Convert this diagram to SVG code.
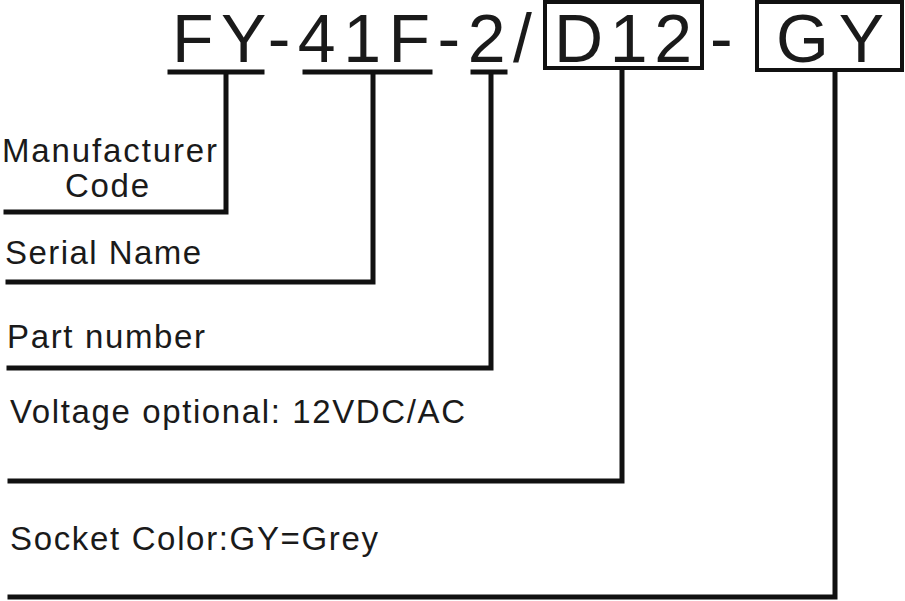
<svg xmlns="http://www.w3.org/2000/svg" width="905" height="601" viewBox="0 0 905 601">
<style>
.t{font-family:"Liberation Sans",Arial,sans-serif;fill:#1a1a1a}
.big{font-size:68px}
.lbl{font-size:33px}
.ln{stroke:#111;stroke-width:5;fill:none;stroke-linecap:square}
.box{stroke:#111;stroke-width:4;fill:none}
</style>
<rect width="905" height="601" fill="#fff"/>
<g id="code">
<text class="t big" x="172" y="62" textLength="360" lengthAdjust="spacing">FY-41F-2/</text>
<text class="t big" x="710" y="62">-</text>
</g>
<g id="box-d12">
<rect class="box" x="545" y="2" width="157" height="66"/>
<text class="t big" x="554" y="62" textLength="138" lengthAdjust="spacing">D12</text>
</g>
<g id="box-gy">
<rect class="box" x="757" y="2" width="145" height="68"/>
<text class="t big" x="776" y="62" textLength="108" lengthAdjust="spacing">GY</text>
</g>
<g id="manufacturer">
<text class="t lbl" x="2" y="162" textLength="215" lengthAdjust="spacing">Manufacturer</text>
<text class="t lbl" x="65" y="197" textLength="84" lengthAdjust="spacing">Code</text>
</g>
<g id="serial">
<text class="t lbl" x="5" y="264" textLength="196" lengthAdjust="spacing">Serial Name</text>
</g>
<g id="part">
<text class="t lbl" x="7" y="348" textLength="198" lengthAdjust="spacing">Part number</text>
</g>
<g id="voltage">
<text class="t lbl" x="10" y="423" textLength="455" lengthAdjust="spacing">Voltage optional: 12VDC/AC</text>
</g>
<g id="socket">
<text class="t lbl" x="10" y="550" textLength="368" lengthAdjust="spacing">Socket Color:GY=Grey</text>
</g>
<g id="connectors">
<path class="ln" d="M170 72H262M226 72V212H6"/>
<path class="ln" d="M305 72H430M373 72V282H8"/>
<path class="ln" d="M473 72H505M491 72V368H9"/>
<path class="ln" d="M622 70V481H10"/>
<path class="ln" d="M835 72V597H10"/>
</g>
</svg>
